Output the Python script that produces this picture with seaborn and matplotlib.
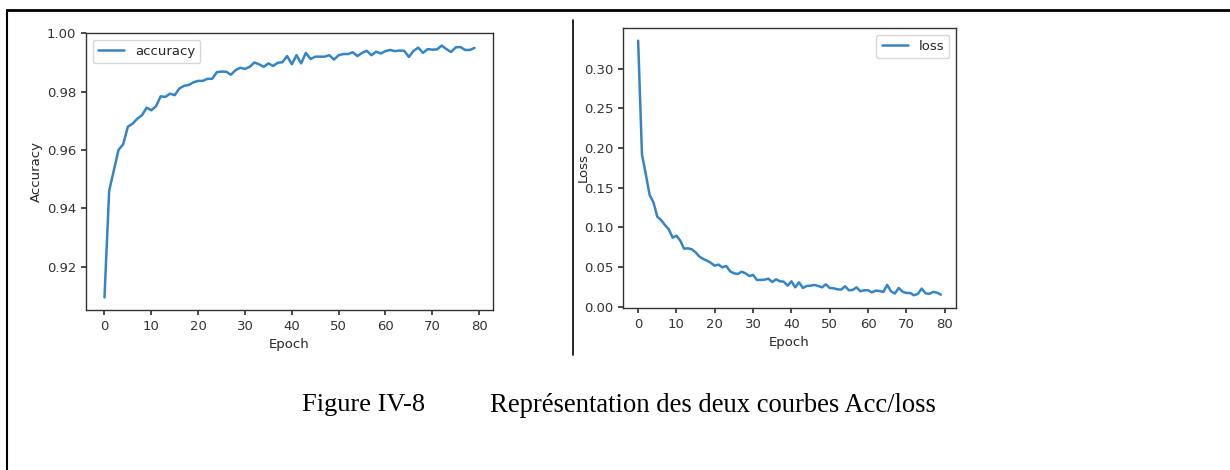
import numpy as np
import pandas as pd
import seaborn as sns
import matplotlib.pyplot as plt
from matplotlib.lines import Line2D

# values
epochs = list(range(80))
accuracy = [0.9094, 0.946, 0.953, 0.960, 0.962, 0.968, 0.969, 0.9707, 0.9719, 0.9745,
            0.9736, 0.975, 0.9784, 0.9782, 0.9793, 0.9788, 0.9811, 0.982, 0.9823, 0.9832,
            0.9837, 0.9837, 0.9844, 0.9844, 0.9867, 0.9869, 0.9868, 0.9858, 0.9874, 0.9882,
            0.9878, 0.9885, 0.990, 0.9894, 0.9885, 0.9897, 0.9888, 0.9899, 0.9901, 0.9922,
            0.9894, 0.9925, 0.9897, 0.9933, 0.9912, 0.992, 0.992, 0.992, 0.9925, 0.991,
            0.9925, 0.9929, 0.9929, 0.9935, 0.9922, 0.9933, 0.994, 0.9925, 0.9937, 0.9931,
            0.9939, 0.9943, 0.9939, 0.9941, 0.994, 0.9919, 0.994, 0.9951, 0.9933, 0.9946,
            0.9944, 0.9945, 0.9958, 0.9946, 0.9936, 0.9952, 0.9953, 0.9943, 0.9943, 0.995]
loss = [0.335, 0.192, 0.167, 0.1406, 0.1313, 0.1133, 0.109, 0.1028, 0.0974, 0.0869,
        0.0894, 0.0831, 0.073, 0.0734, 0.0722, 0.0684, 0.063, 0.060, 0.0579, 0.055,
        0.0516, 0.0529, 0.0495, 0.0512, 0.0445, 0.042, 0.0411, 0.044, 0.042, 0.0386,
        0.0399, 0.0336, 0.0336, 0.034, 0.0352, 0.031, 0.0344, 0.0319, 0.0315, 0.0264,
        0.0319, 0.0243, 0.0306, 0.0235, 0.026, 0.0264, 0.0273, 0.026, 0.0243, 0.0281,
        0.0235, 0.0231, 0.0218, 0.0214, 0.0256, 0.0206, 0.021, 0.0243, 0.0193, 0.0206,
        0.0206, 0.018, 0.0201, 0.0197, 0.0185, 0.0273, 0.0193, 0.0164, 0.0235, 0.0189,
        0.0172, 0.0172, 0.0143, 0.016, 0.0227, 0.0168, 0.016, 0.0185, 0.0176, 0.0151]

df = pd.DataFrame({'Epoch': epochs, 'accuracy': accuracy, 'loss': loss})

sns.set_theme(style="ticks", rc={
    'axes.edgecolor': '#333333',
    'axes.linewidth': 1.0,
    'xtick.color': '#333333',
    'ytick.color': '#333333',
    'xtick.major.size': 3.5,
    'ytick.major.size': 3.5,
    'font.size': 9.5,
    'axes.labelsize': 9.5,
    'xtick.labelsize': 9.5,
    'ytick.labelsize': 9.5,
    'legend.fontsize': 9.5,
})
plt.rcParams['font.family'] = ['DejaVu Sans']

fig = plt.figure(figsize=(12.3, 4.7), dpi=100)
ax_acc = fig.add_axes([0.0699, 0.3404, 0.3309, 0.5894])
ax_loss = fig.add_axes([0.5065, 0.3447, 0.2707, 0.5957])

blue = '#3584c5'
sns.lineplot(data=df, x='Epoch', y='accuracy', label='accuracy', color=blue, lw=1.8, ax=ax_acc)
sns.lineplot(data=df, x='Epoch', y='loss', label='loss', color=blue, lw=1.8, ax=ax_loss)

ax_acc.set_ylabel('Accuracy')
ax_acc.set_xlabel('Epoch')
ax_acc.set_xticks([0, 10, 20, 30, 40, 50, 60, 70, 80])
ax_acc.set_yticks([0.92, 0.94, 0.96, 0.98, 1.00])
ax_acc.legend(loc='upper left')
ax_acc.yaxis.set_label_coords(-0.105, 0.5)

ax_loss.set_ylabel('Loss')
ax_loss.set_xlabel('Epoch')
ax_loss.set_xticks([0, 10, 20, 30, 40, 50, 60, 70, 80])
ax_loss.set_yticks([0.0, 0.05, 0.10, 0.15, 0.20, 0.25, 0.30])
ax_loss.set_yticklabels(['0.00', '0.05', '0.10', '0.15', '0.20', '0.25', '0.30'])
ax_loss.legend(loc='upper right')
ax_loss.yaxis.set_label_coords(-0.10, 0.5)

for ax in (ax_acc, ax_loss):
    ax.margins(x=0.05, y=0.05)
    for s in ax.spines.values():
        s.set_visible(True)

# page frame and divider
fig.add_artist(Line2D([7/1230, 1], [1 - 10/470, 1 - 10/470], color='black', lw=2))
fig.add_artist(Line2D([7/1230, 7/1230], [0, 1 - 10/470], color='black', lw=1.5))
fig.add_artist(Line2D([573/1230, 573/1230], [1 - 20/470, 1 - 355/470], color='black', lw=1.2))

# caption
fig.text(302/1230, 1 - 405/470, 'Figure IV-8', family='Liberation Serif', fontsize=19,
         va='center', ha='left', color='black')
fig.text(490/1230, 1 - 405/470, 'Représentation des deux courbes Acc/loss',
         family='Liberation Serif', fontsize=19.2, va='center', ha='left', color='black')

plt.savefig('out.png', dpi=100)
